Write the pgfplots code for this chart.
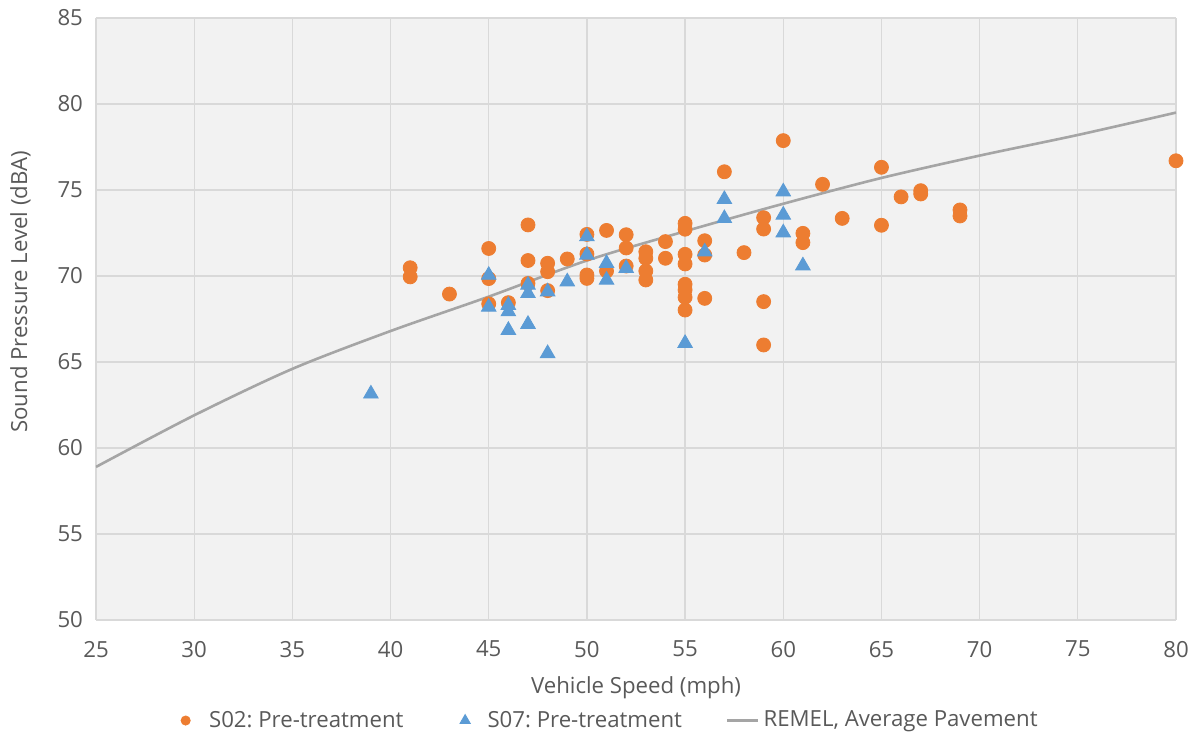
\documentclass[border=0pt]{standalone}
\usepackage{fontspec}
\setmainfont{Open Sans}
\usepackage{pgfplots}
\pgfplotsset{compat=1.18}
\definecolor{orng}{HTML}{ED7D31}
\definecolor{blu}{HTML}{5B9BD5}
\definecolor{gry}{HTML}{A5A5A5}
\definecolor{bg}{HTML}{F2F2F2}
\definecolor{grd}{HTML}{D9D9D9}
\definecolor{txt}{HTML}{595959}
\frenchspacing
\begin{document}
\begin{tikzpicture}
\useasboundingbox (-48pt,-59pt) rectangle (552pt,310pt);
\begin{axis}[
  at={(0,0)}, anchor=south west,
  scale only axis, width=540pt, height=301pt,
  xmin=25, xmax=80, ymin=50, ymax=85,
  xtick={25,30,...,80}, ytick={50,55,...,85},
  axis background/.style={fill=bg},
  axis line style={draw=none},
  major tick length=0pt,
  grid=major, grid style={grd, line width=0.6pt},
  font=\fontsize{11.1}{12.5}\selectfont,
  tick label style={txt},
  /pgf/number format/assume math mode=true,
  xticklabel style={yshift=-7pt},
  yticklabel style={xshift=-3pt},
  xlabel={Vehicle Speed (mph)},
  ylabel={Sound Pressure Level (dBA)},
  label style={txt},
  xlabel style={at={(axis description cs:0.5,-0.113)}, anchor=center},
  ylabel style={at={(axis description cs:-0.07,0.545)}, anchor=center},
  legend columns=3,
  legend style={at={(axis description cs:0.477,-0.167)}, anchor=center, draw=none, fill=none, text=txt,
    /tikz/column 2/.style={column sep=26pt},
    /tikz/column 4/.style={column sep=20pt}},
  legend cell align=left,
]
\addplot[only marks, mark=*, mark size=3.5pt, mark options={draw=orng, fill=orng},
  legend image code/.code={\fill[orng] (0cm,0cm) circle (2.3pt); \path (9.5pt,0pt);}] coordinates {
(41,70.48) (41,69.95) (43,68.95) (45,71.6) (45,69.85) (45,68.38) (46,68.45)
(47,72.97) (47,70.9) (47,69.57) (48,70.74) (48,70.25) (48,69.15) (49,70.99)
(50,72.42) (50,71.28) (50,70.06) (50,69.86) (51,72.65) (51,70.29)
(52,72.4) (52,71.63) (52,70.58) (53,71.41) (53,71.03) (53,70.29) (53,69.77)
(54,72.0) (54,71.03) (55,73.06) (55,72.72) (55,71.26) (55,70.7) (55,69.52)
(55,69.19) (55,68.76) (55,68.02) (56,72.05) (56,71.22) (56,68.7) (57,76.06)
(58,71.36) (59,73.39) (59,72.73) (59,68.51) (59,65.99) (60,77.87)
(61,72.48) (61,71.94) (62,75.33) (63,73.35) (65,76.32) (65,72.95) (66,74.6)
(67,74.96) (67,74.77) (69,73.84) (69,73.49) (80,76.7)
};
\addlegendentry{S02: Pre-treatment}
\addplot[only marks, mark=triangle*, mark size=4.2pt, mark options={draw=blu, fill=blu},
  legend image code/.code={\fill[blu] (0cm,0cm) ++(90:3pt) -- ++(-120:5.2pt) -- ++(0:5.2pt) -- cycle; \path (9pt,0pt);}] coordinates {
(39,63.15) (45,70.05) (45,68.2) (46,68.3) (46,67.93) (46,66.85)
(47,69.48) (47,68.99) (47,67.2) (48,69.09) (48,65.5) (49,69.67)
(50,72.29) (50,71.22) (51,70.74) (51,69.77) (52,70.45) (55,66.09)
(56,71.41) (57,74.46) (57,73.35) (60,74.9) (60,73.55) (60,72.52) (61,70.6)
};
\addlegendentry{S07: Pre-treatment}
\addplot[gry, line width=1.3pt, smooth, mark=none,
  legend image code/.code={\draw[gry, line width=1.3pt] (0cm,0cm) -- (15.5pt,0cm);}] coordinates {
(25,58.9) (30,61.9) (35,64.6) (40,66.8) (45,68.8) (50,70.9) (55,72.6)
(60,74.2) (65,75.7) (70,77.0) (75,78.2) (80,79.5)
};
\addlegendentry{REMEL, Average Pavement}
\end{axis}
\end{tikzpicture}
\end{document}
